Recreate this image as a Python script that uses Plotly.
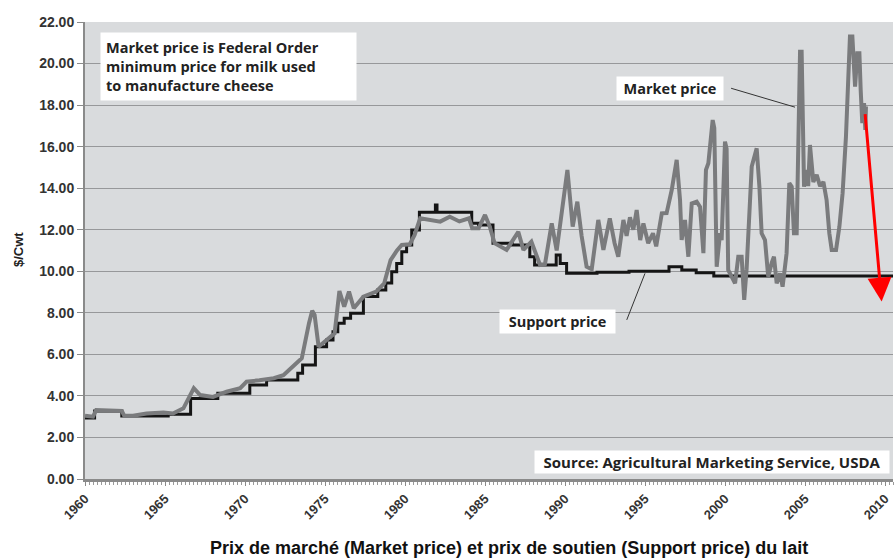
import plotly.graph_objects as go

# ---------------- data ----------------
support_years = [1960.0, 1960.6, 1962.3, 1965.2, 1966.6, 1968.3, 1970.3, 1971.35, 1973.3, 1973.6,
                 1974.4, 1975.1, 1975.5, 1975.8, 1976.2, 1976.6, 1977.4, 1978.3, 1978.8, 1979.17,
                 1979.48, 1979.8, 1980.1, 1980.42, 1980.9, 1981.9, 1982.0, 1984.17, 1984.6, 1985.5,
                 1986.7, 1987.8, 1988.1, 1989.45, 1989.7, 1990.1, 1992.0, 1994.0, 1996.5, 1997.3,
                 1998.2, 1999.3, 2010.5]
support_values = [2.94, 3.27, 3.03, 3.12, 3.88, 4.13, 4.53, 4.77, 5.09, 5.49,
                  6.37, 6.69, 7.09, 7.50, 7.74, 7.98, 8.78, 9.10, 9.43, 9.98,
                  10.38, 10.94, 11.27, 11.99, 12.84, 13.19, 12.84, 12.31, 12.23, 11.35,
                  11.27, 10.70, 10.30, 10.78, 10.38, 9.90, 9.95, 10.00, 10.22, 10.06,
                  9.93, 9.77, 9.77]

market_years = [1960.0, 1960.5, 1960.7, 1961.5, 1962.3, 1962.45, 1963.0, 1963.85, 1964.9, 1965.5,
                1966.15, 1966.8, 1967.2, 1968.0, 1968.85, 1969.7, 1970.1, 1970.9, 1971.8, 1972.4,
                1973.0, 1973.55, 1974.0, 1974.2, 1974.35, 1974.6, 1975.1, 1975.6, 1975.9, 1976.2,
                1976.5, 1976.8, 1977.4, 1978.2, 1978.7, 1979.1, 1979.5, 1979.8, 1980.3, 1980.6,
                1980.95, 1981.6, 1982.2, 1982.8, 1983.4, 1984.0, 1984.2, 1984.6, 1985.0, 1985.3,
                1985.6, 1986.35, 1987.08, 1987.4, 1987.9, 1988.44, 1988.75, 1989.17, 1989.48, 1990.15,
                1990.48, 1990.77, 1991.04, 1991.35, 1991.67, 1992.08, 1992.4, 1992.8, 1993.1, 1993.33,
                1993.65, 1993.85, 1994.06, 1994.27, 1994.48, 1994.7, 1994.9, 1995.2, 1995.5, 1995.7,
                1996.05, 1996.35, 1996.67, 1996.98, 1997.19, 1997.29, 1997.5, 1997.71, 1997.92, 1998.23,
                1998.44, 1998.65, 1998.81, 1998.96, 1999.23, 1999.33, 1999.48, 1999.69, 1999.79, 2000.0,
                2000.1, 2000.2, 2000.63, 2000.83, 2001.04, 2001.2, 2001.35, 2001.67, 2001.98, 2002.15,
                2002.29, 2002.5, 2002.7, 2002.92, 2003.06, 2003.23, 2003.44, 2003.6, 2003.85, 2004.02,
                2004.17, 2004.31, 2004.48, 2004.69, 2004.79, 2004.94, 2005.1, 2005.2, 2005.31, 2005.52,
                2005.73, 2005.94, 2006.15, 2006.35, 2006.52, 2006.67, 2006.94, 2007.15, 2007.35, 2007.56,
                2007.81, 2007.96, 2008.13, 2008.27, 2008.4, 2008.48, 2008.58, 2008.69, 2008.77, 2008.81]
market_values = [3.05, 3.00, 3.32, 3.30, 3.28, 3.05, 3.05, 3.15, 3.20, 3.15,
                 3.40, 4.37, 4.04, 3.95, 4.20, 4.37, 4.69, 4.75, 4.85, 5.00,
                 5.41, 5.81, 7.50, 8.10, 7.90, 6.37, 6.69, 7.01, 9.05, 8.30,
                 9.02, 8.22, 8.78, 9.02, 9.42, 10.54, 11.00, 11.27, 11.30, 11.75,
                 12.55, 12.47, 12.39, 12.63, 12.40, 12.55, 12.07, 12.07, 12.71, 12.15,
                 11.35, 11.03, 11.90, 11.03, 11.43, 10.30, 10.35, 12.31, 11.00, 14.88,
                 12.15, 13.35, 11.70, 10.22, 10.10, 12.47, 11.03, 12.55, 11.35, 10.70,
                 12.47, 11.70, 12.60, 12.00, 12.95, 11.50, 12.30, 11.35, 11.83, 11.20,
                 12.79, 12.80, 13.91, 15.36, 13.43, 11.51, 12.47, 10.70, 13.27, 13.35,
                 13.10, 10.87, 14.88, 15.20, 17.28, 16.90, 10.22, 11.83, 11.50, 16.24,
                 15.90, 10.06, 9.42, 10.70, 10.70, 8.62, 10.10, 15.04, 15.92, 14.07,
                 11.83, 11.50, 9.74, 10.40, 10.70, 9.42, 9.90, 9.26, 10.87, 14.24,
                 14.07, 11.83, 11.83, 20.57, 20.57, 14.07, 14.88, 14.10, 16.08, 14.30,
                 14.64, 14.10, 14.30, 13.43, 11.83, 11.03, 11.03, 12.15, 13.76, 16.48,
                 21.30, 21.30, 18.89, 20.49, 20.49, 18.73, 17.13, 18.09, 16.80, 17.93]

x_tick_values = [1960, 1965, 1970, 1975, 1980, 1985, 1990, 1995, 2000, 2005, 2010]
x_tick_labels = [str(v) for v in x_tick_values]
y_tick_values = [0, 2, 4, 6, 8, 10, 12, 14, 16, 18, 20, 22]
y_tick_labels = ["%.2f" % v for v in y_tick_values]

# ---------------- layout helpers ----------------
W, H = 895, 560
L, R, T, B = 85, 2, 22, 81
PW, PH = W - L - R, H - T - B


def px(xp):
    return (xp - L) / PW


def py(yp):
    return (H - B - yp) / PH


fig = go.Figure()
fig.add_trace(go.Scatter(x=support_years, y=support_values, mode="lines",
                         line=dict(color="#151515", width=3, shape="hv"),
                         name="Support price", hoverinfo="skip"))
fig.add_trace(go.Scatter(x=market_years, y=market_values, mode="lines",
                         line=dict(color="#7a7b7d", width=4),
                         name="Market price", hoverinfo="skip"))

tick_font = dict(family="Liberation Sans, Arial, sans-serif", size=14, color="#333333", weight="bold")
box_font = dict(family="Open Sans, Noto Sans, sans-serif", size=14.5, color="#222222", weight="bold")

fig.update_layout(
    width=W, height=H,
    margin=dict(l=L, r=R, t=T, b=B, autoexpand=False),
    paper_bgcolor="white",
    plot_bgcolor="#d9dbdd",
    showlegend=False,
    xaxis=dict(range=[1960, 2010.5], tickmode="array", tickvals=x_tick_values,
               ticktext=x_tick_labels, tickangle=-45,
               tickfont=dict(family="Liberation Sans, Arial, sans-serif", size=13,
                             color="#333333", weight="bold"),
               showgrid=False, zeroline=False, showline=True, linecolor="#8a8a8a",
               linewidth=3, ticks="outside", ticklen=4, tickcolor="#8a8a8a",
               minor=dict(dtick=0.25, ticks="outside", ticklen=3, tickcolor="#9a9a9a")),
    yaxis=dict(range=[0, 22], tickmode="array", tickvals=y_tick_values,
               ticktext=y_tick_labels, tickfont=tick_font,
               showgrid=True, gridcolor="#97989a", gridwidth=1, zeroline=False,
               showline=True, linecolor="#8a8a8a", linewidth=2,
               ticks="outside", ticklen=6, tickcolor="#8a8a8a"),
)

annotations = [
    dict(xref="paper", yref="paper", x=px(100), y=py(32), xanchor="left", yanchor="top",
         text="Market price is Federal Order<br>minimum price for milk used<br>to manufacture cheese",
         align="left", showarrow=False, bgcolor="white", borderpad=5, width=245, font=box_font),
    dict(xref="paper", yref="paper", x=px(670), y=py(88.5), xanchor="center", yanchor="middle",
         text="Market price", showarrow=False, bgcolor="white", borderpad=2, width=102,
         font=box_font),
    dict(xref="paper", yref="paper", x=px(557.5), y=py(321), xanchor="center", yanchor="middle",
         text="Support price", showarrow=False, bgcolor="white", borderpad=2, width=111,
         font=box_font),
    dict(xref="paper", yref="paper", x=px(890), y=py(462), xanchor="right", yanchor="middle",
         text="Source: Agricultural Marketing Service, USDA", showarrow=False,
         bgcolor="white", borderpad=1, width=352,
         font=dict(family="Open Sans, Noto Sans, sans-serif", size=15, color="#222222", weight="bold")),
    dict(xref="paper", yref="paper", x=px(18), y=py(250), xanchor="center", yanchor="middle",
         text="$/Cwt", textangle=-90, showarrow=False,
         font=dict(family="Liberation Sans, Arial, sans-serif", size=13, color="#222222", weight="bold")),
    dict(xref="paper", yref="paper", x=px(509), y=py(548), xanchor="center", yanchor="middle",
         text="Prix de marché (Market price) et prix de soutien (Support price) du lait",
         showarrow=False,
         font=dict(family="Liberation Sans, Arial, sans-serif", size=18, color="#111111",
                   weight="bold")),
    dict(x=2009.79, y=8.54, ax=2008.75, ay=17.64, xref="x", yref="y", axref="x", ayref="y",
         text="", showarrow=True, arrowcolor="#ff0000", arrowwidth=3, arrowhead=2, arrowsize=1.6),
]
fig.update_layout(annotations=annotations)

fig.add_shape(type="line", xref="x", yref="y", x0=2000.38, y0=18.81, x1=2004.375, y1=17.90,
              line=dict(color="#333333", width=1))
fig.add_shape(type="line", xref="x", yref="y", x0=1993.86, y0=7.66, x1=1995.0, y1=9.9,
              line=dict(color="#333333", width=1))

fig.write_html("out.html", config={"displayModeBar": False},
               post_script="document.body.style.margin='0px';document.body.style.overflow='hidden';")
